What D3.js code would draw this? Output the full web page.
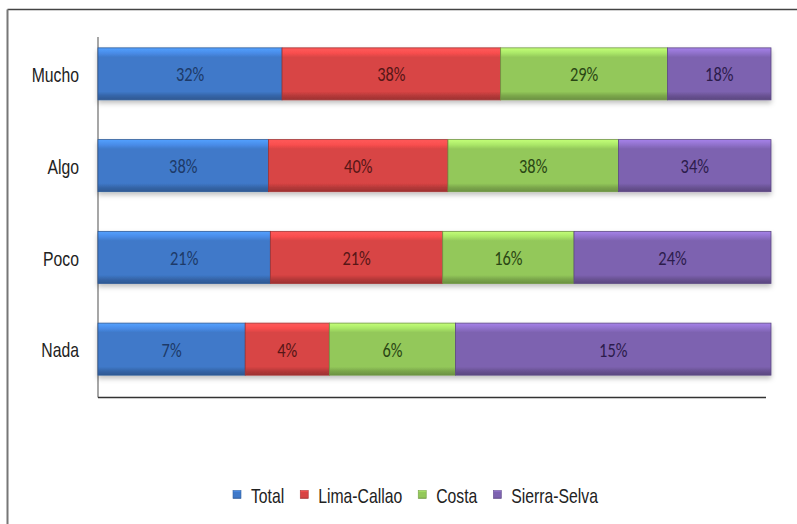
<!DOCTYPE html>
<html>
<head>
<meta charset="utf-8">
<script src="https://cdn.jsdelivr.net/npm/d3@7"></script>
<style>
  html, body { margin: 0; padding: 0; background: #fff; }
  svg { display: block; }
</style>
</head>
<body>
<script>
// ---- data ----
const categories = ["Mucho", "Algo", "Poco", "Nada"];
const seriesNames = ["Total", "Lima-Callao", "Costa", "Sierra-Selva"];
const totalVals  = [32, 38, 21, 7];
const limaVals   = [38, 40, 21, 4];
const costaVals  = [29, 38, 16, 6];
const sierraVals = [18, 34, 24, 15];
const seriesColors = ["#3f79c9", "#d84444", "#93c85a", "#7d62b0"];
const labelColors  = ["#1d3a68", "#561616", "#2a4614", "#2c1c4c"];

const W = 797, H = 524;
const svg = d3.select("body").append("svg").attr("width", W).attr("height", H);
const defs = svg.append("defs");

// gradients (bevel look)
seriesColors.forEach((c, i) => {
  const g = defs.append("linearGradient").attr("id", "g" + i)
    .attr("x1", 0).attr("y1", 0).attr("x2", 0).attr("y2", 1);
  const base = d3.color(c);
  g.append("stop").attr("offset", "0%").attr("stop-color", base.brighter(0.8));
  g.append("stop").attr("offset", "10%").attr("stop-color", base.brighter(0.4));
  g.append("stop").attr("offset", "18%").attr("stop-color", base);
  g.append("stop").attr("offset", "84%").attr("stop-color", base);
  g.append("stop").attr("offset", "92%").attr("stop-color", base.darker(0.5));
  g.append("stop").attr("offset", "100%").attr("stop-color", base.darker(0.9));
});
const f = defs.append("filter").attr("id", "shadow")
  .attr("x", "-5%").attr("y", "-20%").attr("width", "110%").attr("height", "150%");
f.append("feDropShadow").attr("dx", 0).attr("dy", 3).attr("stdDeviation", 2.5)
  .attr("flood-color", "#000").attr("flood-opacity", 0.25);

// frame
svg.append("line").attr("x1", 7.5).attr("x2", W).attr("y1", 9.5).attr("y2", 9.5)
  .attr("stroke", "#444").attr("stroke-width", 1.5);
svg.append("line").attr("x1", 7.5).attr("x2", 7.5).attr("y1", 9.5).attr("y2", H)
  .attr("stroke", "#777").attr("stroke-width", 2);

// table
const rows = categories.map((c, i) => {
  const vals = [totalVals[i], limaVals[i], costaVals[i], sierraVals[i]];
  const sum = d3.sum(vals);
  let acc = 0;
  return { cat: c, segs: vals.map((v, j) => { const s = { v, j, x0: acc / sum, x1: (acc + v) / sum }; acc += v; return s; }) };
});

const x = d3.scaleLinear().domain([0, 1]).range([98, 771]);
const y = d3.scaleBand().domain(categories).range([28, 395]).paddingInner(0.433).paddingOuter(0.2165);

// axes lines
svg.append("line").attr("x1", 98).attr("x2", 98).attr("y1", 37).attr("y2", 397.5)
  .attr("stroke", "#777").attr("stroke-width", 1.3);
svg.append("line").attr("x1", 98).attr("x2", 766).attr("y1", 397.5).attr("y2", 397.5)
  .attr("stroke", "#333").attr("stroke-width", 1.3);

function narrowText(sel, px, py, str, opts) {
  const t = sel.append("text")
    .attr("transform", `translate(${px},${py}) scale(${opts.sx || 0.75},1)`)
    .attr("font-family", opts.family || "'Liberation Sans', Arial, sans-serif")
    .attr("font-size", opts.size || 21)
    .attr("fill", opts.fill || "#222")
    .attr("text-anchor", opts.anchor || "start")
    .attr("dominant-baseline", "central")
    .text(str);
  return t;
}

const bars = svg.append("g");
rows.forEach(r => {
  const g = bars.append("g").attr("filter", "url(#shadow)");
  g.selectAll("rect").data(r.segs).join("rect")
    .attr("x", d => x(d.x0))
    .attr("width", d => x(d.x1) - x(d.x0))
    .attr("y", y(r.cat))
    .attr("height", y.bandwidth())
    .attr("fill", d => `url(#g${d.j})`)
    .attr("stroke", d => d3.color(seriesColors[d.j]).darker(0.8))
    .attr("stroke-width", 0.8);
  r.segs.forEach(d => {
    narrowText(svg, (x(d.x0) + x(d.x1)) / 2, y(r.cat) + y.bandwidth() / 2 + 1, d.v + "%",
      { family: "Carlito, Lato, sans-serif", size: 20, sx: 0.82, anchor: "middle", fill: labelColors[d.j] });
  });
  narrowText(svg, 79, y(r.cat) + y.bandwidth() / 2 + 1, r.cat, { anchor: "end", fill: "#222" });
});

// legend
const lg = svg.append("g");
let lx = 233;
const ly = 495;
seriesNames.forEach((n, i) => {
  lg.append("rect").attr("x", lx).attr("y", ly - 4.5).attr("width", 8).attr("height", 8)
    .attr("fill", `url(#g${i})`).attr("stroke", d3.color(seriesColors[i]).darker(0.6)).attr("stroke-width", 0.6);
  const t = narrowText(lg, lx + 18, ly + 1, n, { fill: "#222" });
  const w = t.node().getComputedTextLength() * 0.75;
  lx = lx + 18 + w + 16;
});
</script>
</body>
</html>
